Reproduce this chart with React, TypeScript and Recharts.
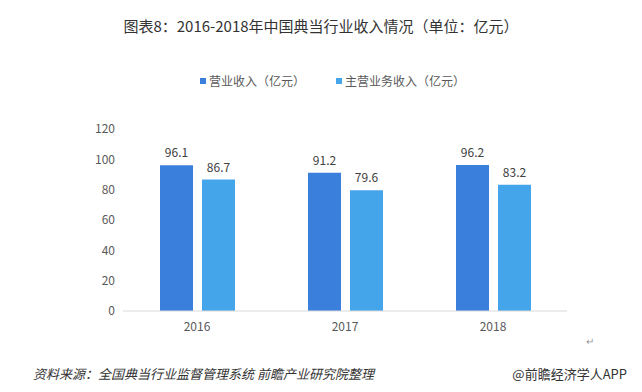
import React from 'react';
import { BarChart, Bar, XAxis, YAxis, Legend, LabelList } from 'recharts';

const years = ['2016', '2017', '2018'];
const revenue = [96.1, 91.2, 96.2];
const mainRevenue = [86.7, 79.6, 83.2];
const yTicks = [0, 20, 40, 60, 80, 100, 120];

const seriesNames = ['营业收入（亿元）', '主营业务收入（亿元）'];
const colors = ['#3b7fdc', '#45a5eb'];

const data = years.map((y, i) => ({ year: y, revenue: revenue[i], mainRevenue: mainRevenue[i] }));

const font = '"Noto Sans CJK SC", "Noto Sans", sans-serif';

const renderLegend = () => (
  <div style={{ display: 'flex', paddingLeft: 200, fontSize: 12, color: '#595959', fontFamily: font }}>
    {seriesNames.map((name, i) => (
      <span key={name} style={{ display: 'flex', alignItems: 'center', marginRight: i === 0 ? 31 : 0 }}>
        <span style={{ width: 6, height: 6, background: colors[i], display: 'inline-block', marginRight: 3 }} />
        {name}
      </span>
    ))}
  </div>
);

const App: React.FC = () => {
  return (
    <div style={{ position: 'absolute', left: 0, top: 0, width: 642, height: 392, background: '#fff', fontFamily: font }}>
      <div style={{ position: 'absolute', top: 15, width: 642, textAlign: 'center', fontSize: 15, color: '#333' }}>
        图表8：2016-2018年中国典当行业收入情况（单位：亿元）
      </div>
      <BarChart width={642} height={392} data={data} margin={{ top: 112, right: 75, left: 83, bottom: 51 }} barGap={9} barSize={33}>
        <XAxis dataKey="year" axisLine={{ stroke: '#d9d9d9' }} tickLine={false} tickMargin={5}
          tick={{ fontSize: 12, fill: '#595959', fontFamily: font }} />
        <YAxis domain={[0, 120]} ticks={yTicks} axisLine={false} tickLine={false} width={40}
          tick={{ fontSize: 12, fill: '#595959', fontFamily: font }} />
        <Legend verticalAlign="top" content={renderLegend} wrapperStyle={{ top: 72, left: 0, width: 642 }} />
        <Bar dataKey="revenue" name={seriesNames[0]} fill={colors[0]} isAnimationActive={false}>
          <LabelList dataKey="revenue" position="top" offset={8} style={{ fontSize: 12, fill: '#404040', fontFamily: font }} />
        </Bar>
        <Bar dataKey="mainRevenue" name={seriesNames[1]} fill={colors[1]} isAnimationActive={false}>
          <LabelList dataKey="mainRevenue" position="top" offset={8} style={{ fontSize: 12, fill: '#404040', fontFamily: font }} />
        </Bar>
      </BarChart>
      <div style={{ position: 'absolute', left: 586, top: 333, fontSize: 10, color: '#999' }}>↵</div>
      <div style={{ position: 'absolute', left: 33, top: 364, fontSize: 13, color: '#333', fontStyle: 'italic' }}>
        资料来源：全国典当行业监督管理系统 前瞻产业研究院整理
      </div>
      <div style={{ position: 'absolute', right: 15, top: 364, fontSize: 13, color: '#333' }}>
        @前瞻经济学人APP
      </div>
    </div>
  );
};

export default App;
